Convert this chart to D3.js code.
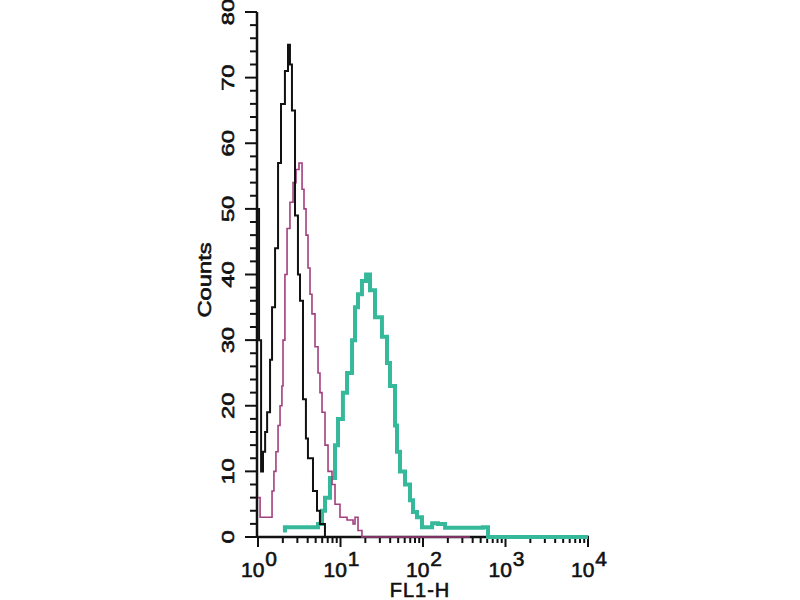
<!DOCTYPE html>
<html lang="en">
<head>
<meta charset="UTF-8">
<script src="https://d3js.org/d3.v7.min.js"></script>
<style>
  body { margin: 0; background: #fff; }
  text { font-family: "Liberation Sans", Arial, sans-serif; fill: #111; stroke: #111; stroke-width: 0.6; }
</style>
</head>
<body>
<div id="chart"></div>
<script>
// histogram step points: FL1-H value (left edge) and count
const blackX = [1.00, 1.03, 1.09, 1.15, 1.22, 1.29, 1.40, 1.48, 1.61, 1.75, 1.90, 2.12, 2.31, 2.44, 2.58, 2.81, 3.05, 3.23, 3.51, 3.81, 4.03, 4.64, 5.19, 5.63, 6.48];
const blackY = [50, 30, 10, 13, 16, 19, 27, 35, 44, 57, 66, 71, 75, 72, 65, 49, 40, 36, 21, 15, 12, 7, 4, 2, 0];

const magX = [1.00, 1.06, 1.40, 1.48, 1.56, 1.65, 1.75, 1.85, 1.95, 2.01, 2.12, 2.25, 2.44, 2.66, 2.89, 3.14, 3.42, 3.61, 3.82, 4.04, 4.27, 4.51, 4.91, 5.34, 5.64, 5.97, 6.49, 7.06, 7.89, 8.58, 9.86, 12.0, 14.2, 15.0, 16.3, 18.2, 371];
const magY = [6, 3, 3, 7, 10, 13, 17, 20, 23, 30, 40, 47, 51, 54, 56, 57, 53, 50, 46, 41, 37, 34, 29, 25, 22, 19, 14, 10, 8, 5, 3, 2.6, 2, 3, 1, 0, 0];

const tealX = [2.01, 2.12, 5.34, 5.97, 6.49, 7.46, 8.58, 9.33, 10.7, 12.0, 13.8, 15.0, 16.3, 18.2, 20.4, 22.8, 26.2, 31.8, 36.6, 39.8, 45.8, 48.4, 52.6, 60.5, 69.6, 75.7, 84.6, 97.2, 129, 152, 185, 534, 614, 10000];
const tealY = [1, 1.5, 2, 4, 6, 9, 14, 18, 22, 25, 30, 35, 37, 39, 40, 37.6, 33.5, 30.5, 26.5, 23, 17, 13, 10, 8, 5.6, 3.8, 3, 1.5, 2.1, 2, 1.4, 1.5, 0, 0];

const yTicks = [0, 10, 20, 30, 40, 50, 60, 70, 80];
const xDecades = [0, 1, 2, 3, 4];

const svg = d3.select("#chart").append("svg")
  .attr("width", 800).attr("height", 600);

const x = d3.scaleLog().domain([1, 10000]).range([258, 588]);
const y = d3.scaleLinear().domain([0, 80]).range([537, 12]);

// y axis
const yMinor = d3.range(0, 81, 2);
svg.append("g").selectAll("line").data(yMinor).enter().append("line")
  .attr("x1", d => d % 10 === 0 ? 245 : 250).attr("x2", 257)
  .attr("y1", d => y(d)).attr("y2", d => y(d))
  .attr("stroke", "#111").attr("stroke-width", 2);
svg.append("line").attr("x1", 257).attr("x2", 257)
  .attr("y1", y(80)).attr("y2", y(0) + 1)
  .attr("stroke", "#111").attr("stroke-width", 2.5);

svg.append("g").selectAll("text").data(yTicks).enter().append("text")
  .attr("transform", d => `translate(228,${y(d)}) rotate(-90) scale(1.4,1)`)
  .attr("text-anchor", "middle").attr("dominant-baseline", "central")
  .attr("font-size", 17).text(d => d);

svg.append("text")
  .attr("transform", `translate(205,280) rotate(-90) scale(1.25,1)`)
  .attr("text-anchor", "middle").attr("dominant-baseline", "central")
  .attr("font-size", 19).text("Counts");

// x axis
const xMinor = [];
xDecades.slice(0, -1).forEach(e => {
  for (let k = 1; k < 10; k++) xMinor.push({ v: k * Math.pow(10, e), major: k === 1 });
});
xMinor.push({ v: 10000, major: true });
svg.append("g").selectAll("line").data(xMinor).enter().append("line")
  .attr("x1", d => x(d.v)).attr("x2", d => x(d.v))
  .attr("y1", 537).attr("y2", d => d.major ? 547 : 543)
  .attr("stroke", "#111").attr("stroke-width", 2);
svg.append("line").attr("x1", 257).attr("x2", 589)
  .attr("y1", 537).attr("y2", 537)
  .attr("stroke", "#111").attr("stroke-width", 2.5);

const xl = svg.append("g").selectAll("text").data(xDecades).enter().append("text")
  .attr("x", d => x(Math.pow(10, d)) + 1).attr("y", 577)
  .attr("text-anchor", "middle").attr("font-size", 21);
xl.append("tspan").text("10");
xl.append("tspan").attr("dy", -11).attr("dx", 1).text(d => d);

svg.append("text").attr("x", 420).attr("y", 597)
  .attr("text-anchor", "middle").attr("font-size", 20)
  .attr("letter-spacing", 1).text("FL1-H");

// histograms
const line = d3.line().curve(d3.curveStepAfter);
function draw(xs, ys, color, w) {
  svg.append("path")
    .attr("d", line(xs.map((v, i) => [x(v), y(ys[i])])))
    .attr("fill", "none").attr("stroke", color)
    .attr("stroke-width", w).attr("stroke-linejoin", "miter");
}
draw(tealX, tealY, "#36b99b", 4);
draw(magX, magY, "#a2407f", 1.6);
draw(blackX, blackY, "#111", 2);
</script>
</body>
</html>
